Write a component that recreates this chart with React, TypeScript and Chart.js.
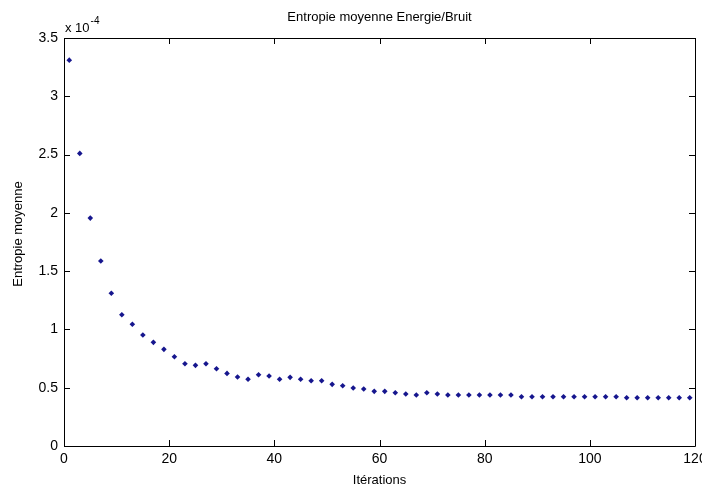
import React, { useEffect, useRef } from "react";
import { Chart, registerables } from "chart.js";

Chart.register(...registerables);

const iterations = [
  1, 3, 5, 7, 9, 11, 13, 15, 17, 19,
  21, 23, 25, 27, 29, 31, 33, 35, 37, 39,
  41, 43, 45, 47, 49, 51, 53, 55, 57, 59,
  61, 63, 65, 67, 69, 71, 73, 75, 77, 79,
  81, 83, 85, 87, 89, 91, 93, 95, 97, 99,
  101, 103, 105, 107, 109, 111, 113, 115, 117, 119,
];

// mean entropy, in units of 1e-4
const entropy = [
  3.31, 2.51, 1.955, 1.587, 1.31, 1.126, 1.044, 0.952, 0.889, 0.829,
  0.766, 0.706, 0.692, 0.706, 0.663, 0.623, 0.592, 0.572, 0.611, 0.6,
  0.572, 0.589, 0.572, 0.56, 0.56, 0.529, 0.517, 0.497, 0.489, 0.469,
  0.469, 0.457, 0.446, 0.437, 0.457, 0.446, 0.437, 0.437, 0.437, 0.437,
  0.437, 0.437, 0.437, 0.423, 0.423, 0.423, 0.423, 0.423, 0.423, 0.423,
  0.423, 0.423, 0.423, 0.414, 0.414, 0.414, 0.414, 0.414, 0.414, 0.414,
];

const xTicks = [0, 20, 40, 60, 80, 100, 120];
const yTicks = [0, 0.5, 1, 1.5, 2, 2.5, 3, 3.5];

const chartTitle = "Entropie moyenne Energie/Bruit";
const xLabel = "Itérations";
const yLabel = "Entropie moyenne";
const exponentBase = "x 10";
const exponentPower = "-4";

const FONT = '"Liberation Sans", Arial, Helvetica, sans-serif';

const matlabAxesPlugin = {
  id: "matlabAxes",
  afterDraw(chart: any) {
    const { ctx, chartArea } = chart;
    const { left, right, top, bottom } = chartArea;
    const xs = chart.scales.x;
    const ys = chart.scales.y;
    const tl = 6;
    ctx.save();
    ctx.strokeStyle = "#000";
    ctx.lineWidth = 1;
    ctx.beginPath();
    ctx.rect(Math.round(left) + 0.5, Math.round(top) + 0.5, Math.round(right - left), Math.round(bottom - top));
    for (const v of xTicks) {
      const px = Math.round(xs.getPixelForValue(v)) + 0.5;
      ctx.moveTo(px, bottom);
      ctx.lineTo(px, bottom - tl);
      ctx.moveTo(px, top);
      ctx.lineTo(px, top + tl);
    }
    for (const v of yTicks) {
      const py = Math.round(ys.getPixelForValue(v)) + 0.5;
      ctx.moveTo(left, py);
      ctx.lineTo(left + tl, py);
      ctx.moveTo(right, py);
      ctx.lineTo(right - tl, py);
    }
    ctx.stroke();

    ctx.fillStyle = "#000";
    // title
    ctx.font = `13px ${FONT}`;
    ctx.textAlign = "center";
    ctx.textBaseline = "alphabetic";
    ctx.fillText(chartTitle, (left + right) / 2, 21);

    // exponent
    ctx.textAlign = "left";
    ctx.font = `13px ${FONT}`;
    ctx.fillText(exponentBase, left + 1, 32);
    const w = ctx.measureText(exponentBase).width;
    ctx.font = `10px ${FONT}`;
    ctx.fillText(exponentPower, left + 1 + w + 1, 24);

    // y label
    ctx.font = `13px ${FONT}`;
    ctx.translate(22, 234);
    ctx.rotate(-Math.PI / 2);
    ctx.textAlign = "center";
    ctx.fillText(yLabel, 0, 0);
    ctx.restore();
  },
};

export default function App() {
  const ref = useRef<HTMLCanvasElement | null>(null);

  useEffect(() => {
    document.body.style.margin = "0";
    const canvas = ref.current;
    if (!canvas) return;
    const chart = new Chart(canvas, {
      type: "scatter",
      data: {
        datasets: [
          {
            data: iterations.map((x, i) => ({ x, y: entropy[i] })),
            pointStyle: "rectRot",
            pointRadius: 2.8,
            pointBackgroundColor: "#16168e",
            pointBorderColor: "#16168e",
            pointBorderWidth: 0,
            showLine: false,
          },
        ],
      },
      options: {
        animation: false,
        responsive: false,
        maintainAspectRatio: false,
        devicePixelRatio: 1,
        layout: { padding: { top: 38, right: 7, left: 0, bottom: 0 } },
        plugins: {
          legend: { display: false },
          tooltip: { enabled: false },
          title: { display: false },
        },
        scales: {
          x: {
            type: "linear",
            min: 0,
            max: 120,
            afterBuildTicks: (s: any) => {
              s.ticks = xTicks.map((v) => ({ value: v }));
            },
            afterFit: (s: any) => {
              s.height = 43;
              s.paddingLeft = 0;
              s.paddingRight = 0;
            },
            grid: { display: false, drawTicks: false },
            border: { display: false },
            ticks: {
              color: "#000",
              font: { family: FONT, size: 14 },
              padding: 5,
              maxRotation: 0,
              autoSkip: false,
              callback: (v: any) => String(Number(v)),
            },
            title: {
              display: true,
              text: xLabel,
              color: "#000",
              font: { family: FONT, size: 13 },
              padding: { top: 0, bottom: 1 },
            },
          },
          y: {
            type: "linear",
            min: 0,
            max: 3.5,
            afterBuildTicks: (s: any) => {
              s.ticks = yTicks.map((v) => ({ value: v }));
            },
            afterFit: (s: any) => {
              s.width = 64;
            },
            grid: { display: false, drawTicks: false },
            border: { display: false },
            ticks: {
              color: "#000",
              font: { family: FONT, size: 14 },
              padding: 6,
              autoSkip: false,
              callback: (v: any) => String(Number(v)),
            },
          },
        },
      },
      plugins: [matlabAxesPlugin],
    });
    return () => chart.destroy();
  }, []);

  return (
    <div style={{ width: 702, height: 489, background: "#fff", position: "relative" }}>
      <canvas ref={ref} width={702} height={489} style={{ display: "block", width: 702, height: 489 }} />
    </div>
  );
}
